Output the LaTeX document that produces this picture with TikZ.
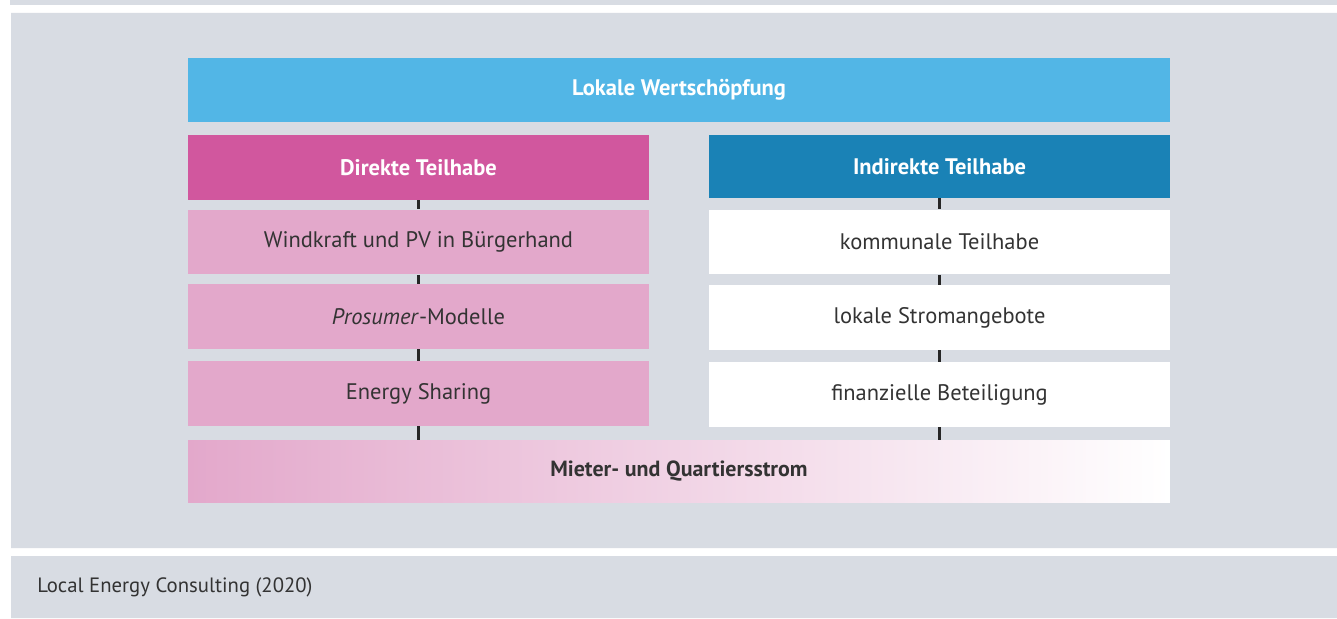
\documentclass[tikz,border=0pt]{standalone}
\usepackage{fontspec}
\setmainfont{PT Sans}
\definecolor{panel}{HTML}{D8DCE3}
\definecolor{wertblue}{HTML}{52B6E6}
\definecolor{direktpink}{HTML}{D1579E}
\definecolor{indirektblue}{HTML}{1A82B6}
\definecolor{lightpink}{HTML}{E3A8CB}
\definecolor{textgray}{HTML}{333333}
\begin{document}
\begin{tikzpicture}[x=0.02cm, y=-0.02cm]
    \tikzstyle{head}=[rectangle, inner sep=0pt, text=white, font=\fontsize{12.8}{14}\selectfont\bfseries]
    \tikzstyle{item}=[rectangle, inner sep=0pt, minimum width=9.22cm, minimum height=1.3cm, text=textgray, font=\fontsize{12.8}{14}\selectfont]
    \tikzstyle{link}=[draw=black!85, line width=1.3pt]
    \useasboundingbox (0,0) rectangle (1337,618);
    \fill[white] (0,0) rectangle (1337,618);

    % panels
    \fill[panel] (10,0) rectangle (1337,5)
                 (11,13) rectangle (1337,548)
                 (11,556) rectangle (1337,618);

    \node[head, fill=wertblue, minimum width=19.64cm, minimum height=1.28cm] (lokal) at (679,90) {Lokale Wertschöpfung};
    \node[head, fill=direktpink, minimum width=9.22cm, minimum height=1.3cm] (direkt) at (418.5,167.5) {Direkte Teilhabe};
    \node[head, fill=indirektblue, minimum width=9.22cm, minimum height=1.26cm] (indirekt) at (939.5,166.5) {Indirekte Teilhabe};

    \node[item, fill=lightpink] (wind) at (418.5,242) {Windkraft und PV in Bürgerhand};
    \node[item, fill=lightpink] (prosumer) at (418.5,316.5) {\textit{Prosumer}-Modelle};
    \node[item, fill=lightpink] (sharing) at (418.5,393.5) {Energy Sharing};

    \node[item, fill=white] (kommunal) at (939.5,242) {kommunale Teilhabe};
    \node[item, fill=white] (strom) at (939.5,317.5) {lokale Stromangebote};
    \node[item, fill=white] (finanz) at (939.5,394.5) {finanzielle Beteiligung};

    \node[item, left color=lightpink, right color=white, minimum width=19.64cm, minimum height=1.24cm,
          font=\fontsize{12.5}{14}\selectfont\bfseries] (mieter) at (679,471) {Mieter- und Quartiersstrom};

    \draw[link] (direkt) -- (wind)
                (wind) -- (prosumer)
                (prosumer) -- (sharing)
                (sharing) -- (mieter.north -| sharing);
    \draw[link] (indirekt) -- (kommunal)
                (kommunal) -- (strom)
                (strom) -- (finanz)
                (finanz) -- (mieter.north -| finanz);

    \node[anchor=west, text=textgray, font=\fontsize{11.8}{13}\selectfont, inner sep=0pt] (quelle) at (37,587) {Local Energy Consulting (2020)};
\end{tikzpicture}
\end{document}
